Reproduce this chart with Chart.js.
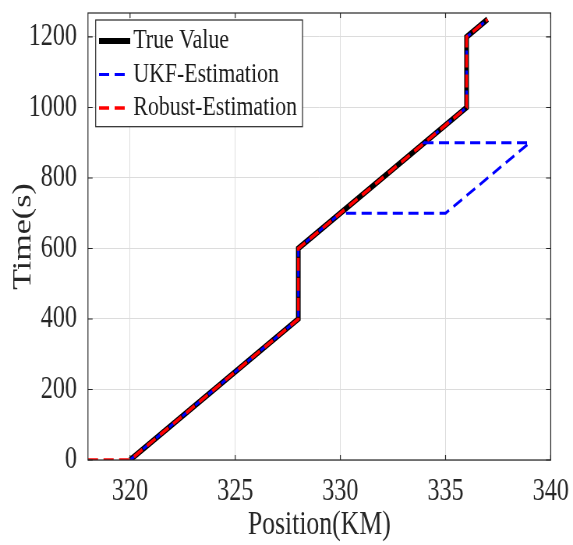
<!DOCTYPE html>
<html><head><meta charset="utf-8">
<script src="https://cdn.jsdelivr.net/npm/chart.js@4.4.1/dist/chart.umd.min.js"></script>
<style>
html,body{margin:0;padding:0;overflow:hidden;background:#fff;width:573px;height:545px;}
#wrap{position:absolute;left:0;top:0;width:735px;height:545px;transform:scaleX(0.779592);transform-origin:0 0;}
</style></head><body>
<div id="wrap"><canvas id="c"></canvas></div>
<script>
const seriesNames = ['True Value', 'UKF-Estimation', 'Robust-Estimation'];
const trueX = [320, 328, 328, 336, 336, 337];
const trueY = [0, 400, 600, 1000, 1200, 1250];
const ukfX = [320, 328, 328, 330, 335, 339, 334, 336, 336, 337];
const ukfY = [0, 400, 600, 700, 700, 900, 900, 1000, 1200, 1250];
const robustX = [318, 320, 328, 328, 336, 336, 337];
const robustY = [0, 0, 400, 600, 1000, 1200, 1250];
const xTicks = [320, 325, 330, 335, 340];
const yTicks = [0, 200, 400, 600, 800, 1000, 1200];
const xTitle = 'Position(KM)';
const yTitle = 'Time(s)';

const pts = (xs, ys) => xs.map((x, i) => ({x: x, y: ys[i]}));
const FONT = "'Liberation Serif', 'Times New Roman', serif";
const AX = '#262626';

const boxLegend = {
  id: 'boxLegend',
  afterDraw(chart) {
    const ctx = chart.ctx, ca = chart.chartArea;
    const xs = chart.scales.x, ys = chart.scales.y;
    ctx.save();
    ctx.strokeStyle = AX; ctx.lineWidth = 1.2; ctx.setLineDash([]);
    ctx.strokeRect(ca.left, ca.top, ca.right - ca.left, ca.bottom - ca.top);
    ctx.beginPath();
    xTicks.forEach(v => {
      const p = xs.getPixelForValue(v);
      ctx.moveTo(p, ca.bottom); ctx.lineTo(p, ca.bottom - 5);
      ctx.moveTo(p, ca.top); ctx.lineTo(p, ca.top + 5);
    });
    yTicks.forEach(v => {
      const p = ys.getPixelForValue(v);
      ctx.moveTo(ca.left, p); ctx.lineTo(ca.left + 6, p);
      ctx.moveTo(ca.right, p); ctx.lineTo(ca.right - 6, p);
    });
    ctx.stroke();
    // legend
    const L = 122.7, T = 20, R = 388, B = 126.7;
    ctx.fillStyle = '#fff';
    ctx.fillRect(L, T, R - L, B - T);
    ctx.strokeStyle = AX; ctx.lineWidth = 1.2;
    ctx.strokeRect(L, T, R - L, B - T);
    const rows = [41, 74.5, 108];
    chart.data.datasets.forEach((ds, i) => {
      ctx.beginPath();
      ctx.strokeStyle = ds.borderColor;
      ctx.lineWidth = ds.borderWidth;
      ctx.setLineDash(ds.borderDash || []);
      ctx.moveTo(127, rows[i]); ctx.lineTo(167, rows[i]);
      ctx.stroke();
      ctx.setLineDash([]);
      ctx.fillStyle = '#1a1a1a';
      ctx.font = '28px ' + FONT;
      ctx.textBaseline = 'middle';
      ctx.textAlign = 'left';
      ctx.fillText(ds.label, 171, rows[i]);
    });
    ctx.restore();
  }
};

new Chart(document.getElementById('c'), {
  type: 'scatter',
  data: {
    datasets: [
      {label: seriesNames[0], data: pts(trueX, trueY), showLine: true, borderColor: '#000000', borderWidth: 6, pointRadius: 0, order: 3, fill: false},
      {label: seriesNames[1], data: pts(ukfX, ukfY), showLine: true, borderColor: '#0000ff', borderWidth: 3, borderDash: [13, 7], pointRadius: 0, order: 2, fill: false},
      {label: seriesNames[2], data: pts(robustX, robustY), showLine: true, borderColor: '#ff0000', borderWidth: 3.5, borderDash: [13, 7], pointRadius: 0, order: 1, fill: false}
    ]
  },
  options: {
    responsive: true,
    maintainAspectRatio: false,
    animation: false,
    devicePixelRatio: 1,
    layout: {autoPadding: false, padding: {left: 0, top: 13, right: 28.6, bottom: 0}},
    plugins: {legend: {display: false}, tooltip: {enabled: false}},
    scales: {
      x: {
        type: 'linear', min: 318, max: 340,
        afterBuildTicks: s => { s.ticks = xTicks.map(v => ({value: v})); },
        afterFit: s => { s.height = 85; s.paddingLeft = 0; s.paddingRight = 0; s.paddingTop = 0; s.paddingBottom = 0; },
        grid: {color: '#dcdcdc', lineWidth: 1, drawTicks: false},
        border: {display: false},
        ticks: {padding: 13, color: AX, font: {family: FONT, size: 31}, maxRotation: 0, autoSkip: false, callback: v => String(v)},
        title: {display: true, text: xTitle, color: AX, font: {family: FONT, size: 33}, padding: {top: 0, bottom: 0}}
      },
      y: {
        type: 'linear', min: 0, max: 1268,
        afterBuildTicks: s => { s.ticks = yTicks.map(v => ({value: v})); },
        afterFit: s => { s.width = 112.8; s.paddingLeft = 0; s.paddingRight = 0; s.paddingTop = 0; s.paddingBottom = 0; },
        grid: {color: '#dcdcdc', lineWidth: 1, drawTicks: false},
        border: {display: false},
        ticks: {padding: 14, color: AX, font: {family: FONT, size: 31}, autoSkip: false, callback: v => String(v)},
        title: {display: true, text: yTitle, color: AX, font: {family: FONT, size: 34}, padding: {top: 10, bottom: 0}}
      }
    }
  },
  plugins: [boxLegend]
});
</script>
</body></html>
